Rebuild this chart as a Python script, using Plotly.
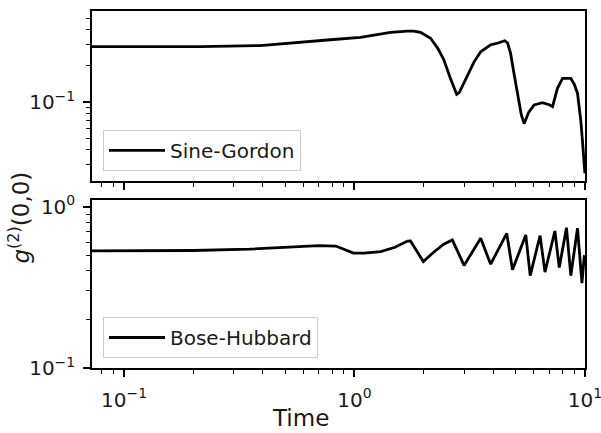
import plotly.graph_objects as go

# Sine-Gordon g2(0,0) vs time
t_sg = [0.0726, 0.214, 0.39, 0.582, 0.786, 1.062, 1.434, 1.694, 1.811, 1.936, 2.139, 2.3, 2.445, 2.6,
        2.777, 2.85, 3.088, 3.3, 3.53, 3.9, 4.2, 4.49, 4.62, 4.76, 4.93, 5.1, 5.3, 5.45, 5.7, 6.02,
        6.55, 7.0, 7.24, 7.6, 8.0, 8.69, 9.0, 9.29, 9.6, 9.78, 10.0]
g_sg = [0.289, 0.289, 0.295, 0.312, 0.33, 0.345, 0.38, 0.39, 0.39, 0.38, 0.34, 0.28, 0.224, 0.16,
        0.116, 0.12, 0.163, 0.215, 0.262, 0.299, 0.31, 0.324, 0.31, 0.254, 0.17, 0.118, 0.078, 0.066, 0.082, 0.0944,
        0.0987, 0.095, 0.0914, 0.13, 0.1576, 0.1576, 0.14, 0.118, 0.07, 0.0453, 0.0255]

# Bose-Hubbard g2(0,0) vs time
t_bh = [0.0726, 0.2, 0.35, 0.5, 0.7, 0.83, 0.99, 1.1, 1.3, 1.5, 1.7, 1.75, 1.99, 2.2, 2.44, 2.66,
        2.99, 3.53, 3.9, 4.58, 4.85, 5.54, 5.79, 6.39, 6.71, 7.41, 7.74, 8.32, 8.69, 9.29, 9.71, 9.95]
g_bh = [0.532, 0.535, 0.545, 0.56, 0.574, 0.57, 0.515, 0.515, 0.527, 0.56, 0.612, 0.613, 0.457, 0.52, 0.585, 0.622,
        0.432, 0.637, 0.44, 0.684, 0.406, 0.668, 0.374, 0.662, 0.393, 0.707, 0.419, 0.741, 0.374, 0.735, 0.336, 0.5]

x_major = [0.1, 1, 10]
x_major_text = ["10<sup>−1</sup>", "10<sup>0</sup>", "10<sup>1</sup>"]
x_minor = [0.08, 0.09, 0.2, 0.3, 0.4, 0.5, 0.6, 0.7, 0.8, 0.9, 2, 3, 4, 5, 6, 7, 8, 9]
y_top_minor = [0.03, 0.04, 0.05, 0.06, 0.07, 0.08, 0.09, 0.2, 0.3, 0.4, 0.5]
y_bot_minor = [0.2, 0.3, 0.4, 0.5, 0.6, 0.7, 0.8, 0.9]

FONT = "DejaVu Sans"
INK = "#1a1a1a"

fig = go.Figure()
fig.add_trace(go.Scatter(x=t_sg, y=g_sg, mode="lines", name="Sine-Gordon", showlegend=True,
                         line=dict(color="black", width=2.8), xaxis="x2", yaxis="y2", legend="legend"))
fig.add_trace(go.Scatter(x=t_bh, y=g_bh, mode="lines", name="Bose-Hubbard", showlegend=True,
                         line=dict(color="black", width=2.8), xaxis="x", yaxis="y", legend="legend2"))

axis_common = dict(showline=True, linecolor="black", linewidth=1.5, mirror=True, automargin=False,
                   ticks="outside", ticklen=7, tickwidth=1.5, tickcolor="black",
                   ticklabeloverflow="allow",
                   showgrid=False, zeroline=False, tickfont=dict(family=FONT, size=20, color=INK))
minor_common = dict(ticks="outside", ticklen=4, tickwidth=1.2, tickcolor="black", showgrid=False)
legend_common = dict(xanchor="left", yanchor="bottom", itemwidth=56,
                     bgcolor="rgba(255,255,255,0.8)", bordercolor="#cccccc", borderwidth=1,
                     font=dict(family=FONT, size=20, color=INK))

xr = [-1.139, 1.0005]
fig.update_layout(
    width=601, height=433,
    margin=dict(l=92, r=16, t=11, b=65),
    plot_bgcolor="white", paper_bgcolor="white",
    font=dict(family=FONT, color=INK),
    showlegend=True,
    xaxis=dict(type="log", range=xr, domain=[0, 1], anchor="y", ticklabelstandoff=6,
               tickmode="array", tickvals=x_major, ticktext=x_major_text,
               minor=dict(tickmode="array", tickvals=x_minor, **minor_common), **axis_common),
    yaxis=dict(type="log", range=[-1.0005, 0.0415], domain=[0, 0.4706], anchor="x", ticklabelstandoff=4,
               tickmode="array", tickvals=[0.1, 1], ticktext=["10<sup>−1</sup>", "10<sup>0</sup>"],
               minor=dict(tickmode="array", tickvals=y_bot_minor, **minor_common), **axis_common),
    xaxis2=dict(type="log", range=xr, domain=[0, 1], anchor="y2", matches="x",
                tickmode="array", tickvals=x_major, ticktext=x_major_text, showticklabels=False,
                minor=dict(tickmode="array", tickvals=x_minor, **minor_common), **axis_common),
    yaxis2=dict(type="log", range=[-1.658, -0.242], domain=[0.5238, 1], anchor="x2", ticklabelstandoff=4,
                tickmode="array", tickvals=[0.1], ticktext=["10<sup>−1</sup>"],
                minor=dict(tickmode="array", tickvals=y_top_minor, **minor_common), **axis_common),
    legend=dict(x=0.0223, y=0.552, **legend_common),
    legend2=dict(x=0.0223, y=0.028, **legend_common),
    annotations=[
        dict(text="Time", xref="paper", yref="paper", x=0.423, y=-0.14,
             xanchor="center", yanchor="middle", showarrow=False,
             font=dict(family=FONT, size=23, color=INK)),
        dict(text="<i>g</i><sup>(2)</sup>(0,0)", xref="paper", yref="paper", x=-0.147, y=0.42,
             xanchor="center", yanchor="middle", textangle=-90, showarrow=False,
             font=dict(family=FONT, size=23, color=INK)),
    ],
)

# the page body has a default 8px margin; remove it so the figure sits at the window origin
fig.write_html("out.html", config={"displayModeBar": False},
               post_script="document.body.style.margin='0';")
